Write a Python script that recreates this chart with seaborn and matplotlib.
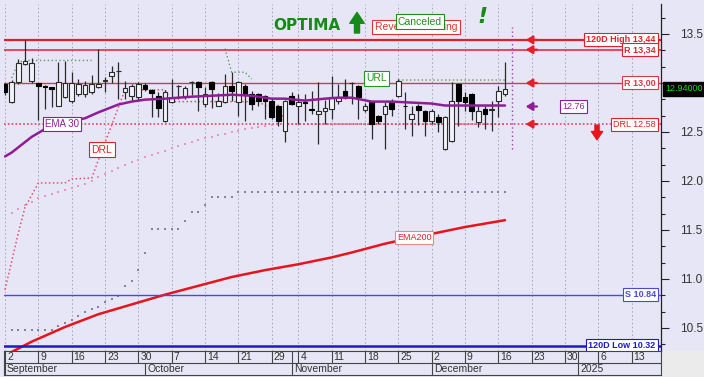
import numpy as np
import pandas as pd
import matplotlib
matplotlib.use('Agg')
import matplotlib.pyplot as plt
from matplotlib.ticker import MultipleLocator, FuncFormatter
from matplotlib.patches import Rectangle
from matplotlib.transforms import offset_copy, blended_transform_factory
import seaborn as sns

sns.set_theme(style='white')
plt.rcParams['font.family'] = ['Liberation Sans', 'DejaVu Sans']

BG = '#e6e6f6'
RED = '#e2202c'
BLUE = '#2a2ad0'
PURPLE = '#8e1d96'
GREEN = '#1f9a1f'

# trading days (exchange closed on 28 Oct), future slots keep going on the axis
days = pd.bdate_range('2024-09-02', '2025-01-24')
days = days[days != pd.Timestamp('2024-10-28')]

opens = [12.99, 12.81, 13.01, 13.19, 13.02, 13.00, 12.97, 12.96, 12.77, 12.86,
         12.82, 12.89, 12.89, 12.91, 12.96, 13.02, 13.07, 13.12, 12.91, 12.87,
         12.86, 12.98, 12.93, 12.87, 12.61, 12.81, 12.97, 12.87, 13.01, 13.01,
         12.79, 13.01, 12.77, 12.81, 12.97, 12.81, 12.97, 12.89, 12.89, 12.87,
         12.82, 12.77, 12.51, 12.87, 12.77, 12.81, 12.73, 12.68, 12.71, 12.73,
         12.82, 12.92, 13.00, 12.97, 12.72, 12.81, 12.66, 12.68, 12.81, 12.87,
         12.77, 12.63, 12.76, 12.71, 12.61, 12.65, 12.33, 12.41, 12.99, 12.86,
         12.89, 12.60, 12.73, 12.72, 12.82, 12.89]
highs = [13.00, 13.03, 13.24, 13.44, 13.25, 13.00, 12.98, 12.96, 13.21, 13.22,
         13.11, 13.04, 13.02, 13.08, 13.35, 13.06, 13.17, 13.21, 13.02, 12.99,
         13.01, 13.00, 12.94, 12.91, 12.93, 13.04, 12.98, 12.97, 13.02, 13.02,
         12.96, 13.02, 12.90, 13.09, 13.11, 13.02, 12.99, 12.92, 12.90, 12.88,
         12.84, 12.78, 12.83, 12.91, 12.89, 12.89, 12.92, 13.01, 12.83, 13.07,
         12.99, 13.04, 13.01, 12.98, 12.80, 12.82, 12.67, 12.81, 12.84, 13.04,
         12.91, 12.77, 12.79, 12.72, 12.73, 12.68, 12.66, 13.01, 13.00, 12.91,
         12.90, 12.78, 12.77, 12.82, 12.97, 13.21]
lows = [12.88, 12.80, 12.99, 13.18, 13.00, 12.62, 12.73, 12.75, 12.76, 12.85,
        12.80, 12.87, 12.86, 12.89, 12.95, 12.91, 13.00, 12.84, 12.84, 12.82,
        12.83, 12.92, 12.65, 12.65, 12.60, 12.80, 12.84, 12.84, 12.88, 12.71,
        12.75, 12.74, 12.76, 12.80, 12.82, 12.66, 12.61, 12.72, 12.76, 12.63,
        12.63, 12.56, 12.40, 12.78, 12.58, 12.61, 12.68, 12.38, 12.58, 12.63,
        12.79, 12.84, 12.79, 12.63, 12.70, 12.43, 12.58, 12.33, 12.66, 12.86,
        12.53, 12.46, 12.57, 12.46, 12.58, 12.50, 12.32, 12.40, 12.56, 12.71,
        12.62, 12.55, 12.53, 12.51, 12.65, 12.87]
closes = [12.91, 13.01, 13.20, 13.22, 13.20, 12.97, 12.96, 12.94, 13.01, 13.00,
          13.00, 12.99, 12.98, 12.99, 12.99, 13.03, 13.11, 13.12, 12.95, 12.97,
          12.99, 12.94, 12.90, 12.74, 12.91, 12.85, 12.97, 12.95, 13.01, 12.96,
          12.89, 12.94, 12.82, 12.97, 12.92, 13.01, 12.89, 12.79, 12.82, 12.82,
          12.65, 12.61, 12.82, 12.79, 12.81, 12.80, 12.72, 12.71, 12.74, 12.86,
          12.86, 12.86, 13.00, 12.86, 12.77, 12.58, 12.61, 12.77, 12.73, 13.02,
          12.76, 12.68, 12.72, 12.61, 12.71, 12.60, 12.65, 12.82, 12.82, 12.81,
          12.71, 12.71, 12.68, 12.73, 12.92, 12.94]

ema30_day = [0, 1, 4, 6, 9, 12, 14, 17, 19, 21, 24, 28, 31, 34, 37, 40, 42, 45,
             48, 50, 52, 55, 58, 61, 64, 66, 69, 72, 75]
ema30_val = [12.25, 12.29, 12.45, 12.53, 12.60, 12.64, 12.70, 12.78, 12.81, 12.83,
             12.84, 12.86, 12.87, 12.88, 12.87, 12.84, 12.84, 12.82, 12.84, 12.85,
             12.85, 12.81, 12.81, 12.80, 12.79, 12.77, 12.77, 12.77, 12.77]
ema200_day = [0, 2, 4, 9, 14, 19, 24, 29, 34, 39, 44, 49, 52, 57, 61, 64, 69, 75]
ema200_val = [10.22, 10.29, 10.36, 10.51, 10.64, 10.74, 10.84, 10.93, 11.02, 11.09,
              11.15, 11.22, 11.27, 11.36, 11.42, 11.46, 11.53, 11.60]
drl_day = [0, 2, 3, 5, 9, 10, 13, 18, 24, 25, 38, 39, 41, 42, 75]
drl_val = [10.89, 11.47, 11.73, 11.98, 11.98, 12.02, 12.03, 12.93, 12.93, 12.81,
           12.81, 12.77, 12.77, 12.58, 12.58]
url_day = [1, 2, 3, 13, np.nan, 33, 34, 36, 37, np.nan, 59, 75]
url_val = [13.05, 13.21, 13.23, 13.23, np.nan, 13.35, 13.11, 13.11, 13.04, np.nan,
           13.03, 13.03]
trail_gray = ([10.48] * 7 + [10.52, 10.55, 10.58, 10.62, 10.66, 10.69, 10.71, 10.76,
              10.80, 10.83, 10.93, 10.98, 11.09, 11.27] + [11.51] * 5 +
              [11.59, 11.68, 11.68, 11.75] + [11.84] * 4 + [11.89] * 41)
trail_pink = [11.67, 11.71, 11.75, 11.79, 11.83, 11.85, 11.87, 11.89, 11.91, 11.93,
              11.95, 11.97, 12.00, 12.04, 12.07, 12.10, 12.13, 12.16, 12.19, 12.21,
              12.24, 12.26, 12.29, 12.31, 12.34, 12.36, 12.38, 12.40, 12.42, 12.44,
              12.45, 12.47, 12.48, 12.50, 12.51, 12.53, 12.54, 12.55, 12.56, 12.57]

# right-hand levels: value, tag text, colour, line width, bold
levels = [(13.44, '120D High 13,44', RED, 1.6, True),
          (13.34, 'R 13,34', RED, 1.1, True),
          (13.00, 'R 13,00', '#e0364a', 1.0, True),
          (10.84, 'S 10.84', '#4a4ad8', 1.0, True),
          (10.32, '120D Low 10.32', '#1c1cc0', 1.8, True)]
drl_level = 12.58
ema30_last = 12.76
last_price = 12.94

fig = plt.figure(figsize=(7.04, 3.77), dpi=100, facecolor=BG)
fig.patches.append(Rectangle((662 / 704, 0), 42 / 704, 26.5 / 377,
                             transform=fig.transFigure, fc='#ebebeb', ec='none', zorder=-1))
ax = fig.add_axes([4 / 704, 26.5 / 377, 657 / 704, 346.5 / 377])
ax.set_facecolor(BG)
XL = (-0.15, 98.4)
ax.set_xlim(*XL)
ax.set_ylim(10.27, 13.806)

week_start = [i for i in range(len(days))
              if (i == 0 or days[i].isocalendar().week != days[i - 1].isocalendar().week)
              and i < XL[1]]
month_start = [i for i in range(len(days))
               if (i == 0 or days[i].month != days[i - 1].month) and i < XL[1]]

for t in week_start:
    ax.axvline(t, color='#a2a2bc', lw=0.7, ls=(0, (1.5, 2.5)), zorder=0)

# candles
o, h, l, c = map(np.array, (opens, highs, lows, closes))
x = np.arange(len(c))
up = c >= o
ax.vlines(x, l, h, color='#2a2a2a', lw=0.9, zorder=3)
lo = np.minimum(o, c)
ht = np.maximum(np.abs(c - o), 0.004)
ax.bar(x[up], ht[up], bottom=lo[up], width=0.68, facecolor='#f2f2fb',
       edgecolor='#2a2a2a', linewidth=0.8, zorder=4)
ax.bar(x[~up], ht[~up], bottom=lo[~up], width=0.68, facecolor='black',
       edgecolor='black', linewidth=0.8, zorder=4)

# moving averages / bands
sns.lineplot(x=ema200_day, y=ema200_val, ax=ax, color='#e8141c', linewidth=1.8,
             estimator=None, sort=False, zorder=2)
sns.lineplot(x=ema30_day, y=ema30_val, ax=ax, color=PURPLE, linewidth=1.8,
             estimator=None, sort=False, zorder=5)
ax.plot(drl_day, drl_val, color='#e0506e', lw=1.1, ls=(0, (1, 1.6)), zorder=2)
ax.plot(url_day, url_val, color='#5e9a5e', lw=1.0, ls=(0, (1, 1.8)), zorder=2)
ax.scatter(np.arange(1, len(trail_gray) + 1), trail_gray, s=1.5, marker='s',
           color='#8484a2', lw=0, zorder=1)
ax.scatter(np.arange(1, len(trail_pink) + 1), trail_pink, s=1.5, marker='s',
           color='#e49ab8', lw=0, zorder=1)

for val, txt, col, lw, bold in levels:
    ax.axhline(val, color=col, lw=lw, zorder=2)
ax.axhline(drl_level, color='#e2456a', lw=1.2, ls=(0, (1, 1.3)), zorder=2)
ax.vlines(76, 12.33, 13.57, color='#a040b0', lw=1.0, ls=(0, (1, 2)), zorder=2)


def tag(xv, yv, s, col, ha='right', bold=False, size=6.5, ec=None):
    ax.text(xv, yv, s, color=col, ha=ha, va='center', fontsize=size,
            fontweight='bold' if bold else 'normal', zorder=9,
            bbox=dict(boxstyle='square,pad=0.22', fc='white', ec=ec or col, lw=0.8))


for val, txt, col, lw, bold in levels:
    tag(97.6, val, txt, col, bold=bold)
tag(97.6, drl_level, 'DRL 12.58', RED)
tag(85.3, ema30_last, '12.76', PURPLE, ha='center')
tag(8.6, 12.58, 'EMA 30', PURPLE, ha='center', size=7)
tag(14.55, 12.32, 'DRL', RED, ha='center', size=7.5)
tag(55.7, 13.046, 'URL', GREEN, ha='center', size=7.5)
tag(61.35, 11.42, 'EMA200', RED, ha='center', size=6.5, ec='#e88a8a')

# side arrows pointing at the levels
for val, col in [(13.44, RED), (13.34, RED), (13.00, RED), (drl_level, RED), (ema30_last, PURPLE)]:
    ax.annotate('', xy=(78.1, val), xytext=(79.8, val),
                arrowprops=dict(arrowstyle='-|>,head_length=0.5,head_width=0.3', color=col,
                                lw=1.6, mutation_scale=8, shrinkA=0, shrinkB=0), zorder=6)
ax.annotate('', xy=(88.8, 12.42), xytext=(88.8, 12.57),
            arrowprops=dict(arrowstyle='simple,head_length=0.6,head_width=0.8,tail_width=0.3',
                            fc='#e8141c', ec='#e8141c', mutation_scale=10, shrinkA=0, shrinkB=0))

# signal banner (the "Canceled" stamp sits over "Reversal Warning" as in the source)
ax.text(45.3, 13.59, 'OPTIMA', color='#168a16', fontsize=11, fontweight='heavy',
        family='DejaVu Sans', ha='center', va='center', zorder=9)
ax.annotate('', xy=(52.8, 13.72), xytext=(52.8, 13.51),
            arrowprops=dict(arrowstyle='simple,head_length=0.6,head_width=0.8,tail_width=0.28',
                            fc='#168a16', ec='#168a16', mutation_scale=13, shrinkA=0, shrinkB=0))
tag(61.65, 13.57, 'Reversal Warning', '#e03434', ha='center', size=7.5)
tag(62.25, 13.625, 'Canceled', '#1f8a1f', ha='center', size=7.5)
ax.text(71.7, 13.67, '!', color='#168a16', fontsize=16, fontweight='bold', style='italic',
        family='DejaVu Sans', ha='center', va='center', zorder=9)

# right price axis (13.0 label is hidden behind the last-price box)
ax.set_xticks([])
ax.yaxis.tick_right()
ax.yaxis.set_major_locator(MultipleLocator(0.5))
ax.yaxis.set_minor_locator(MultipleLocator(1 / 6))
ax.yaxis.set_major_formatter(FuncFormatter(lambda v, p: '' if abs(v - 13.0) < 1e-6 else f'{v:.1f}'))
ax.tick_params(axis='y', which='major', length=6, width=0.8, color='#222222',
               labelsize=8.5, labelcolor='#333333', pad=8)
ax.tick_params(axis='y', which='minor', length=3, width=0.8, color='#222222')
for side in ['left', 'top', 'bottom']:
    ax.spines[side].set_visible(False)
ax.spines['right'].set_color('#222222')
ax.spines['right'].set_linewidth(0.9)
ax.text(1.0065, last_price, '12.94000', transform=blended_transform_factory(ax.transAxes, ax.transData),
        color='#00e000', fontsize=6.5, ha='left', va='center', clip_on=False, zorder=9,
        bbox=dict(boxstyle='square,pad=0.25', fc='black', ec='black'))

# date strip
axd = fig.add_axes([4 / 704, 2 / 377, 657 / 704, 24.5 / 377])
axd.set_facecolor(BG)
axd.set_xlim(*XL)
axd.set_ylim(0, 2)
axd.set_xticks([])
axd.set_yticks([])
for s in axd.spines.values():
    s.set_color('#444444')
    s.set_linewidth(0.8)
axd.axhline(1, color='#444444', lw=0.8)
shift = offset_copy(axd.transData, fig=fig, x=2, y=0, units='dots')
for i in week_start:
    axd.vlines(i, 1, 2, color='#444444', lw=0.8)
    axd.text(i, 1.48, str(days[i].day), transform=shift, fontsize=7.5, color='#333333',
             ha='left', va='center')
for i in month_start:
    prev = max([w for w in week_start if w <= i])
    if i - prev >= 2:
        axd.vlines(i, 1, 2, color='#444444', lw=0.8)
    axd.vlines(i, 0, 1, color='#444444', lw=0.8)
    name = str(days[i].year) if days[i].month == 1 else days[i].strftime('%B')
    axd.text(i, 0.48, name, transform=shift, fontsize=7.5, color='#333333',
             ha='left', va='center')

fig.savefig('out.png', dpi=100, facecolor=BG)
